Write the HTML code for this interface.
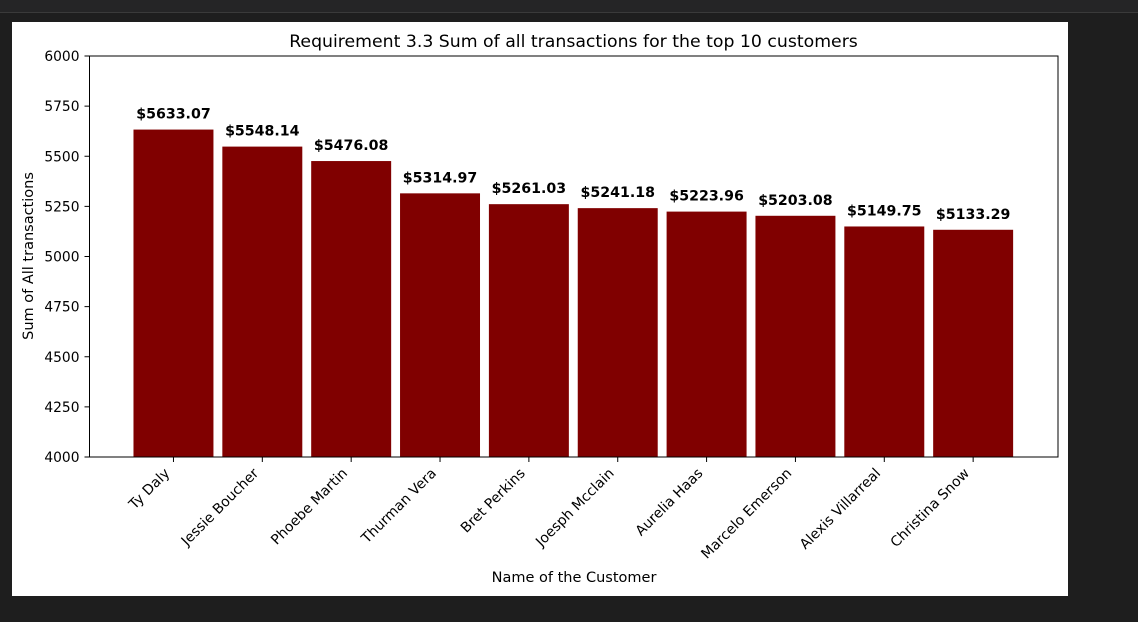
<!DOCTYPE html>
<html><head><meta charset="utf-8">
<style>
html,body{margin:0;padding:0;background:#1e1e1e;width:1138px;height:622px;overflow:hidden;font-family:"DejaVu Sans","Liberation Sans",sans-serif;}
#top{position:absolute;left:0;top:0;width:1138px;height:12px;background:#252526;border-bottom:1px solid #3a3a3a;}
#panel{position:absolute;left:12px;top:22px;width:1056px;height:574px;background:#fff;}
</style></head><body>
<div id="top"></div>
<div id="panel"></div>
<svg id="chart" width="1138" height="622" style="position:absolute;left:0;top:0"></svg>
<script>
const categories=["Ty Daly","Jessie Boucher","Phoebe Martin","Thurman Vera","Bret Perkins","Joesph Mcclain","Aurelia Haas","Marcelo Emerson","Alexis Villarreal","Christina Snow"];
const values=[5633.07,5548.14,5476.08,5314.97,5261.03,5241.18,5223.96,5203.08,5149.75,5133.29];
const yTicks=[4000,4250,4500,4750,5000,5250,5500,5750,6000];
const yMin=4000,yMax=6000;
const L=89.5,R=1058,T=56,B=457;
const xMin=-0.945,xMax=9.955;
const sx=v=>L+(v-xMin)/(xMax-xMin)*(R-L);
const sy=v=>B-(v-yMin)/(yMax-yMin)*(B-T);
const svg=document.getElementById('chart');
const NS='http://www.w3.org/2000/svg';
function mk(tag,attrs,parent){const e=document.createElementNS(NS,tag);for(const k in attrs)e.setAttribute(k,attrs[k]);(parent||svg).appendChild(e);return e;}
values.forEach((v,i)=>{
  const x0=sx(i-0.45),x1=sx(i+0.45);
  const r=mk('rect',{x:x0,y:sy(v),width:x1-x0,height:B-sy(v),fill:'#800000'});
  
  
  const t=mk('text',{x:sx(i),y:sy(v)-11,'text-anchor':'middle','font-size':'14.2','font-weight':'bold',fill:'#000'});
  t.textContent='$'+v.toFixed(2);
  
  
  const tk=mk('line',{x1:sx(i),x2:sx(i),y1:B,y2:B+5,stroke:'#000','stroke-width':1});
  
  
  const lx=sx(i)-3,ly=B+17;
  const lb=mk('text',{x:lx,y:ly,'text-anchor':'end','font-size':'14','fill':'#000',transform:`rotate(-45 ${lx} ${ly})`});
  lb.textContent=categories[i];
  
  
});
yTicks.forEach(v=>{
  const tk=mk('line',{x1:L-5,x2:L,y1:sy(v),y2:sy(v),stroke:'#000','stroke-width':1});
  
  
  const t=mk('text',{x:L-10,y:sy(v)+5,'text-anchor':'end','font-size':'13.8',fill:'#000'});
  t.textContent=v;
  
  
});
const fr=mk('rect',{x:L,y:T,width:R-L,height:B-T,fill:'none',stroke:'#000','stroke-width':1});


const ti=mk('text',{x:573.5,y:47,'text-anchor':'middle','font-size':'17.3',fill:'#000'});
ti.textContent='Requirement 3.3 Sum of all transactions for the top 10 customers';


const xt=mk('text',{x:574,y:582,'text-anchor':'middle','font-size':'14.5',fill:'#000'});
xt.textContent='Name of the Customer';


const yt=mk('text',{x:33,y:256,'text-anchor':'middle','font-size':'14.5',fill:'#000',transform:'rotate(-90 33 256)'});
yt.textContent='Sum of All transactions';


</script>
</body></html>
